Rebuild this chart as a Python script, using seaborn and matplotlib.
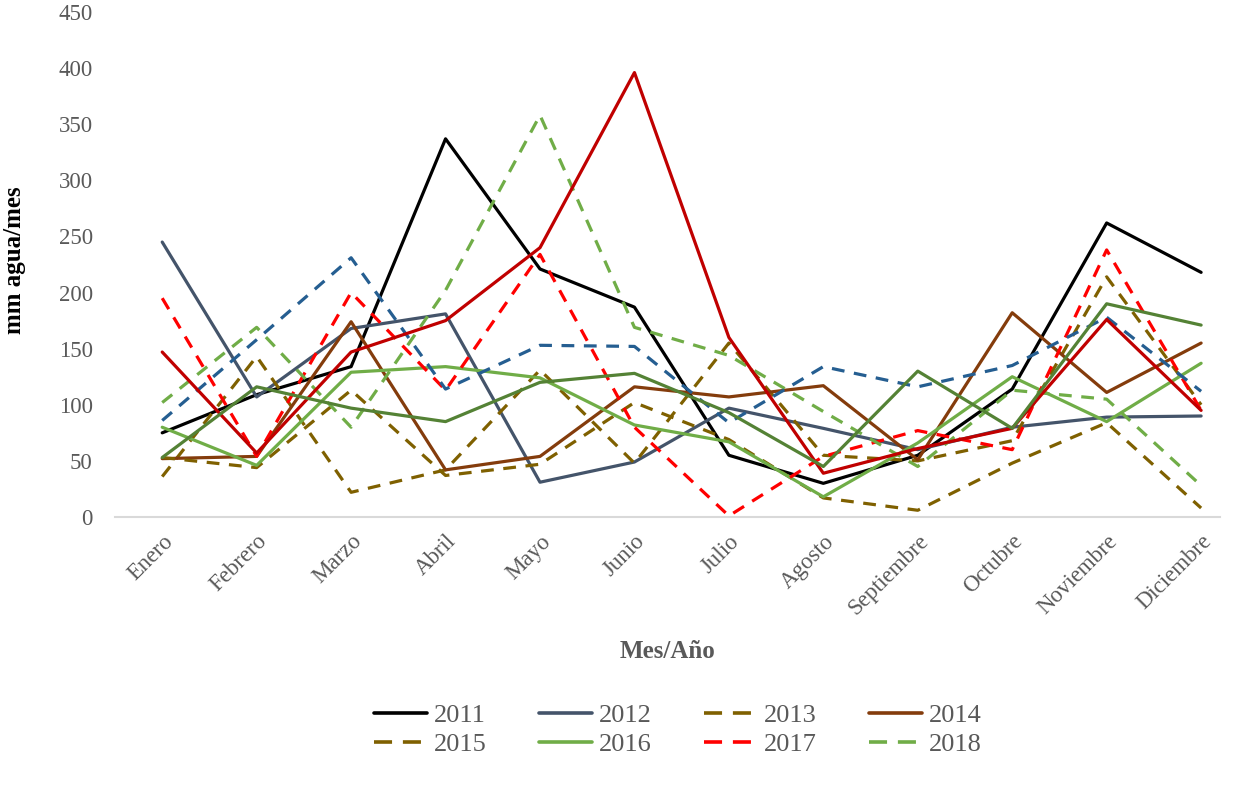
import matplotlib.pyplot as plt
import pandas as pd
import seaborn as sns
from matplotlib.lines import Line2D

meses = ["Enero", "Febrero", "Marzo", "Abril", "Mayo", "Junio", "Julio",
         "Agosto", "Septiembre", "Octubre", "Noviembre", "Diciembre"]

y2011 = [75, 109, 134, 337, 221, 187, 55, 30, 55, 114, 262, 218]
y2012 = [245, 107, 168, 181, 31, 49, 97, 79, 60, 80, 89, 90]
y2013 = [36, 143, 22, 42, 131, 48, 155, 55, 50, 68, 214, 100]
y2014 = [52, 54, 174, 42, 54, 116, 107, 117, 51, 182, 111, 155]
y2015 = [53, 44, 113, 37, 47, 102, 69, 17, 6, 48, 84, 8]
y2016 = [80, 46, 129, 134, 124, 82, 67, 18, 66, 125, 85, 137]
y2017 = [195, 54, 200, 113, 234, 80, 1, 54, 77, 60, 238, 95]
y2018 = [102, 169, 80, 202, 358, 169, 144, 94, 45, 113, 105, 28]
y2019 = [86, 158, 231, 114, 153, 152, 84, 134, 116, 135, 178, 112]
y2020 = [147, 57, 147, 175, 240, 396, 160, 39, 61, 79, 176, 95]
y2021 = [53, 116, 97, 85, 120, 128, 93, 45, 130, 79, 190, 171]

series = {
    "2011": (y2011, "#000000", "-"),
    "2012": (y2012, "#44546a", "-"),
    "2013": (y2013, "#7f6000", "--"),
    "2014": (y2014, "#843c0c", "-"),
    "2015": (y2015, "#7f6000", "--"),
    "2016": (y2016, "#70ad47", "-"),
    "2017": (y2017, "#ff0000", "--"),
    "2018": (y2018, "#70ad47", "--"),
    "2019": (y2019, "#255e91", "--"),
    "2020": (y2020, "#c00000", "-"),
    "2021": (y2021, "#548235", "-"),
}

sns.set_style("white")
plt.rcParams["font.family"] = ["Liberation Serif", "DejaVu Serif"]

fig = plt.figure(figsize=(12.39, 7.87), dpi=100)
ax = fig.add_axes([115 / 1239, 1 - 517 / 787, 1105 / 1239, 505 / 787])

pos = list(range(len(meses)))
handles = {}
for year, (vals, color, ls) in series.items():
    df = pd.DataFrame({"pos": pos, "val": vals})
    sns.lineplot(data=df, x="pos", y="val", ax=ax, color=color, linewidth=2.3,
                 sort=False, legend=False)
    line = ax.lines[-1]
    if ls == "--":
        line.set_dashes((4, 3))
    h = Line2D([], [], color=color, linewidth=2.6)
    if ls == "--":
        h.set_dashes((5, 3))
    handles[year] = h

ax.set_xlim(-0.5, 11.2)
ax.set_ylim(0, 450)
ax.set_yticks(range(0, 451, 50))
ax.set_xticks(pos)
ax.set_xticklabels(meses, rotation=45, ha="right", rotation_mode="anchor")
ax.tick_params(axis="both", length=0, labelsize=16.5, labelcolor="#595959")
ax.tick_params(axis="y", pad=16)
ax.tick_params(axis="x", pad=10)

for s in ["top", "right", "left"]:
    ax.spines[s].set_visible(False)
ax.spines["bottom"].set_color("#d9d9d9")
ax.spines["bottom"].set_linewidth(1.5)

ax.set_xlabel("Mes/Año", fontsize=18, fontweight="bold", color="#595959", va="center")
ax.xaxis.set_label_coords(0.5, (517 - 652) / 505)
ax.set_ylabel("mm agua/mes", fontsize=18, fontweight="bold", color="#000000", va="center")
ax.yaxis.set_label_coords((15 - 115) / 1105, (517 - 260) / 505)

order = ["2011", "2015", "2012", "2016", "2013", "2017", "2014", "2018"]
fig.legend([handles[y] for y in order], order, loc="center", ncol=4,
           bbox_to_anchor=(678 / 1239, 1 - 730 / 787), frameon=False,
           fontsize=19, labelcolor="#595959", handlelength=2.0,
           handletextpad=0.25, columnspacing=2.0, labelspacing=0.22)

fig.savefig("out.png", dpi=100)
